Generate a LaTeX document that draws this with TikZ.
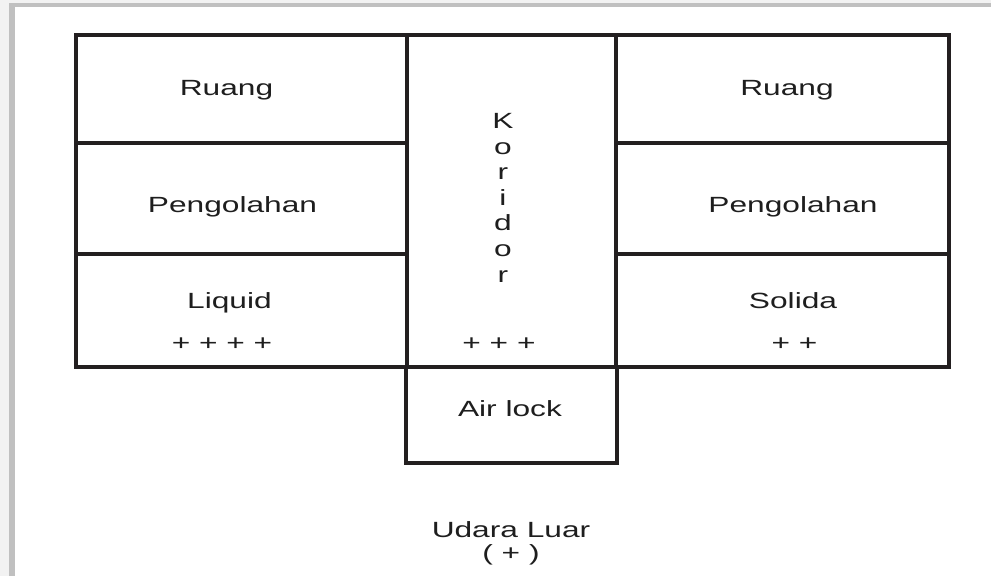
\documentclass[tikz,border=0pt]{standalone}
\usepackage{fontspec}
\setmainfont{Liberation Sans}[FakeStretch=1.44]
\definecolor{ink}{HTML}{231F20}
\definecolor{txt}{HTML}{1E1E1E}
\definecolor{pagebg}{HTML}{F2F2F2}
\definecolor{frame}{HTML}{C0C0C0}
\begin{document}
\begin{tikzpicture}[x=1pt,y=-1pt,
  wall/.style={draw=ink,line width=4pt},
  inner/.style={draw=ink,line width=3.2pt},
  lbl/.style={text=txt,inner sep=0pt,anchor=base,font=\fontsize{22}{25.6}\selectfont}]
\useasboundingbox (0,0) rectangle (991,576);
% page background and frame
\fill[pagebg] (0,0) rectangle (991,576);
\fill[frame] (9,3) rectangle (991,576);
\fill[white] (15,7) rectangle (991,576);

% outer walls and corridor
\draw[wall] (76,35) rectangle (949,366.5);
\draw[wall] (407,35) -- (407,366.5);
\draw[wall] (616,35) -- (616,366.5);
% room partitions
\draw[inner] (76,143) -- (407,143);
\draw[inner] (76,254) -- (407,254);
\draw[inner] (616,143) -- (949,143);
\draw[inner] (616,254) -- (949,254);
% air lock
\draw[wall] (406,366.5) -- (406,462.5) -- (617,462.5) -- (617,366.5);

% labels
\node[lbl] (ruangL) at (226.5,95.5) {Ruang};
\node[lbl] (ruangR) at (787,95.5) {Ruang};
\node[lbl] (olahL) at (232.5,212.5) {Pengolahan};
\node[lbl] (olahR) at (793,212.5) {Pengolahan};
\node[lbl] (liquid) at (229.5,308.5) {Liquid};
\node[lbl] (solida) at (793,308.5) {Solida};
\node[lbl] (plusL) at (222,350.5) {+ + + +};
\node[lbl] (plusK) at (499,350.5) {+ + +};
\node[lbl] (plusR) at (794.5,350.5) {+ +};
\foreach \c [count=\i] in {K,o,r,i,d,o,r}
  \node[lbl] (kor\i) at (503,128.5+25.6*\i-25.6) {\c};
\node[lbl] (airlock) at (510,416.5) {Air lock};
\node[lbl] (udara) at (511,537.5) {Udara Luar};
\node[lbl] (plusU) at (511,560) {( + )};
\end{tikzpicture}
\end{document}
